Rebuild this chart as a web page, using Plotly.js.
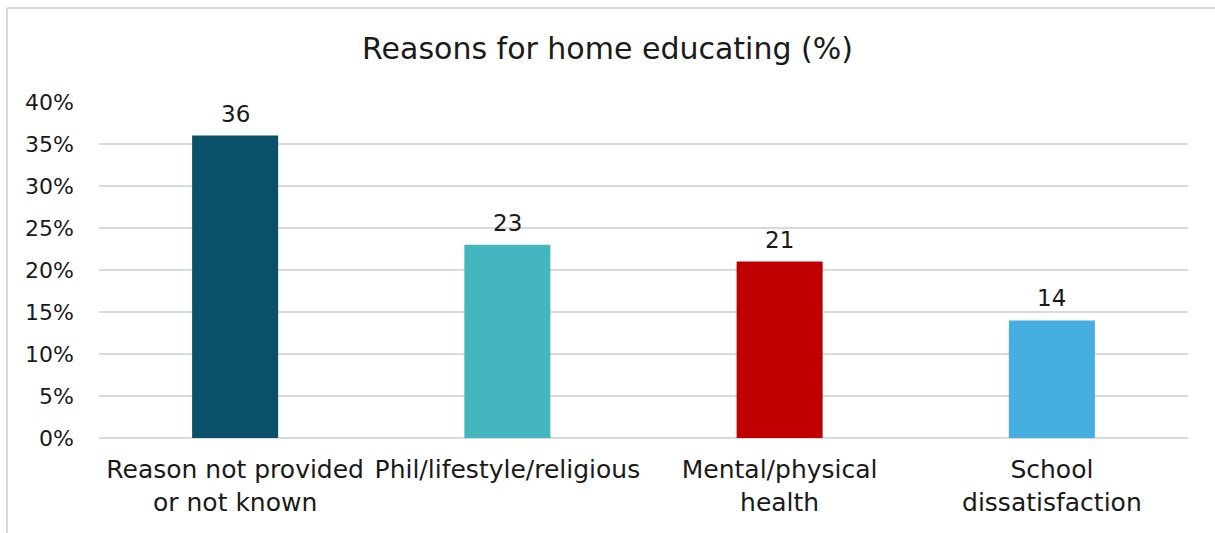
<!DOCTYPE html>
<html>
<head>
<meta charset="utf-8">
<script src="https://cdn.plot.ly/plotly-3.0.1.min.js"></script>
<style>
html, body { margin: 0; padding: 0; background: #ffffff; }
#chart { width: 1215px; height: 533px; }
</style>
</head>
<body>
<div id="chart"></div>
<script>
const categories = [
  "Reason not provided<br>or not known",
  "Phil/lifestyle/religious",
  "Mental/physical<br>health",
  "School<br>dissatisfaction"
];
const values = [36, 23, 21, 14];
const barColors = ["#0B5069", "#43B6C0", "#C00000", "#47AFDF"];
const yTickVals = [0, 5, 10, 15, 20, 25, 30, 35, 40];
const yTickText = ["0%", "5%", "10%", "15%", "20%", "25%", "30%", "35%", "40%"];
const titleText = "Reasons for home educating (%)";

const FONT = "DejaVu Sans, Lato, sans-serif";
const TEXT = "#1a1a1a";

const trace = {
  type: "bar",
  x: categories,
  y: values,
  marker: { color: barColors, line: { width: 0 } },
  cliponaxis: false,
  hoverinfo: "none"
};

const labelAnnotations = categories.map((c, i) => ({
  x: c, y: values[i], xref: "x", yref: "y",
  text: String(values[i]),
  showarrow: false,
  xanchor: "center", yanchor: "bottom",
  yshift: 7,
  font: { family: FONT, size: 23, color: TEXT }
}));

const W = 1215, H = 533, L = 99, R = 27, T = 102, B = 95;
const pw = W - L - R, ph = H - T - B;
const px = v => (v - L) / pw;
const py = v => (H - B - v) / ph;

const layout = {
  width: W,
  height: H,
  margin: { l: L, r: R, t: T, b: B, pad: 0 },
  paper_bgcolor: "#ffffff",
  plot_bgcolor: "#ffffff",
  showlegend: false,
  bargap: 0.684,
  font: { family: FONT, color: TEXT },
  title: {
    text: titleText,
    font: { family: FONT, size: 30, color: TEXT },
    x: 0.5, xanchor: "center",
    y: 1 - 48 / H, yref: "container", yanchor: "middle"
  },
  xaxis: {
    type: "category",
    tickangle: 0,
    showgrid: false,
    showline: false,
    zeroline: false,
    ticks: "",
    ticklabelstandoff: 14,
    tickfont: { family: FONT, size: 25, color: TEXT }
  },
  yaxis: {
    range: [0, 40],
    tickvals: yTickVals,
    ticktext: yTickText,
    showgrid: true,
    gridcolor: "#d9d9d9",
    gridwidth: 1.5,
    zeroline: true,
    zerolinecolor: "#d9d9d9",
    zerolinewidth: 1.5,
    showline: false,
    ticks: "",
    ticklabelstandoff: 24,
    tickfont: { family: FONT, size: 22, color: TEXT }
  },
  annotations: labelAnnotations,
  shapes: [
    { type: "line", xref: "paper", yref: "paper",
      x0: px(7), x1: px(W + 10), y0: py(8), y1: py(8),
      line: { color: "#d9d9d9", width: 2 } },
    { type: "line", xref: "paper", yref: "paper",
      x0: px(7), x1: px(7), y0: py(8), y1: py(H + 10),
      line: { color: "#d9d9d9", width: 2 } }
  ]
};

Plotly.newPlot("chart", [trace], layout, { displayModeBar: false, staticPlot: true });
</script>
</body>
</html>
